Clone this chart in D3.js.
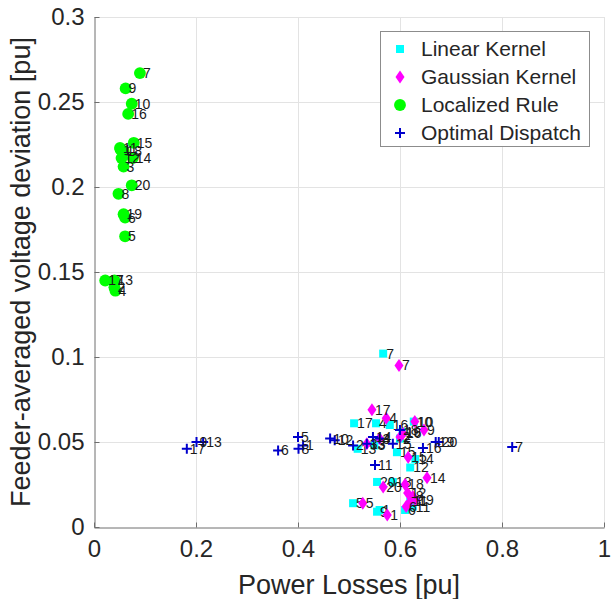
<!DOCTYPE html>
<html>
<head>
<meta charset="utf-8">
<script src="https://cdn.jsdelivr.net/npm/d3@7"></script>
<style>
  html, body { margin: 0; padding: 0; background: #fff; }
  svg { display: block; font-family: "Liberation Sans", Arial, sans-serif; }
</style>
</head>
<body>
<svg id="chart" width="613" height="599"></svg>
<script>
// Scenario indices 1..20 are the array positions + 1.
const seriesNames = ["Linear Kernel", "Gaussian Kernel", "Localized Rule", "Optimal Dispatch"];

// Linear Kernel: power losses / voltage deviation per scenario
const linearX = [0.560, 0.600, 0.550, 0.553, 0.508, 0.610, 0.567, 0.620, 0.555, 0.627,
                 0.625, 0.620, 0.517, 0.630, 0.594, 0.580, 0.510, 0.586, 0.605, 0.555];
const linearY = [0.010, 0.052, 0.048, 0.061, 0.014, 0.010, 0.102, 0.015, 0.009, 0.062,
                 0.012, 0.035, 0.046, 0.040, 0.044, 0.060, 0.061, 0.0265, 0.056, 0.0265];

// Gaussian Kernel
const gaussX = [0.575, 0.600, 0.560, 0.573, 0.527, 0.612, 0.598, 0.625, 0.647, 0.629,
                0.620, 0.615, 0.535, 0.653, 0.616, 0.606, 0.545, 0.610, 0.630, 0.567];
const gaussY = [0.007, 0.053, 0.052, 0.064, 0.014, 0.012, 0.095, 0.018, 0.057, 0.062,
                0.015, 0.020, 0.049, 0.029, 0.041, 0.055, 0.069, 0.025, 0.016, 0.0235];

// Localized Rule
const localX = [0.052, 0.040, 0.058, 0.042, 0.061, 0.061, 0.090, 0.048, 0.062, 0.074,
                0.051, 0.054, 0.040, 0.076, 0.078, 0.067, 0.022, 0.058, 0.058, 0.074];
const localY = [0.222, 0.141, 0.212, 0.139, 0.171, 0.182, 0.267, 0.196, 0.258, 0.249,
                0.223, 0.217, 0.145, 0.217, 0.226, 0.243, 0.145, 0.221, 0.184, 0.201];

// Optimal Dispatch
const optX = [0.410, 0.508, 0.535, 0.560, 0.400, 0.361, 0.820, 0.401, 0.201, 0.463,
              0.551, 0.472, 0.214, 0.547, 0.586, 0.645, 0.182, 0.600, 0.670, 0.676];
const optY = [0.048, 0.048, 0.049, 0.052, 0.053, 0.045, 0.047, 0.046, 0.050, 0.052,
              0.0365, 0.051, 0.050, 0.053, 0.049, 0.0465, 0.046, 0.057, 0.050, 0.050];

const xTicks = [0, 0.2, 0.4, 0.6, 0.8, 1];
const xTickLabels = ["0", "0.2", "0.4", "0.6", "0.8", "1"];
const yTicks = [0, 0.05, 0.1, 0.15, 0.2, 0.25, 0.3];
const yTickLabels = ["0", "0.05", "0.1", "0.15", "0.2", "0.25", "0.3"];

const svg = d3.select("#chart");
const margin = { left: 94, right: 9, top: 17, bottom: 72 };
const W = 613, H = 599;
const x = d3.scaleLinear().domain([0, 1]).range([margin.left, W - margin.right]);
const y = d3.scaleLinear().domain([0, 0.3]).range([H - margin.bottom, margin.top]);

const axisColor = "#262626";

// grid
const grid = svg.append("g").attr("stroke", "#e3e3e3").attr("stroke-width", 1);
grid.selectAll("line.vx").data(xTicks.slice(1)).join("line")
  .attr("x1", d => Math.round(x(d)) + 0.5).attr("x2", d => Math.round(x(d)) + 0.5)
  .attr("y1", y(0.3)).attr("y2", y(0));
grid.selectAll("line.hy").data(yTicks.slice(1)).join("line")
  .attr("x1", x(0)).attr("x2", x(1))
  .attr("y1", d => Math.round(y(d)) + 0.5).attr("y2", d => Math.round(y(d)) + 0.5);

// axes (ticks inward)
const xAxis = d3.axisBottom(x).tickValues(xTicks)
  .tickFormat((d, i) => xTickLabels[i]).tickSizeInner(-5).tickSizeOuter(0).tickPadding(12);
const yAxis = d3.axisLeft(y).tickValues(yTicks)
  .tickFormat((d, i) => yTickLabels[i]).tickSizeInner(-5).tickSizeOuter(0).tickPadding(10);

const gx = svg.append("g").attr("transform", `translate(0,${Math.round(y(0)) + 0.5})`).call(xAxis);
const gy = svg.append("g").attr("transform", `translate(${Math.round(x(0)) + 0.5},0)`).call(yAxis);
[gx, gy].forEach(g => {
  g.select(".domain").attr("stroke", "#6e6e6e").attr("stroke-width", 1);
  g.selectAll(".tick line").attr("stroke", "#6e6e6e");
  g.selectAll(".tick text").attr("fill", axisColor).attr("font-size", 24)
    .attr("font-family", "Liberation Sans, Arial, sans-serif");
});
gx.selectAll(".tick text").attr("dy", "0.71em");

// axis labels
svg.append("text").attr("x", (x(0) + x(1)) / 2).attr("y", 594)
  .attr("text-anchor", "middle").attr("fill", axisColor).attr("font-size", 27)
  .text("Power Losses [pu]");
svg.append("text")
  .attr("transform", `translate(30,${(y(0) + y(0.3)) / 2}) rotate(-90)`)
  .attr("text-anchor", "middle").attr("fill", axisColor).attr("font-size", 27)
  .text("Feeder-averaged voltage deviation [pu]");

// marker shapes
const sq = d3.symbol().type(d3.symbolSquare).size(64)();
const circ = d3.symbol().type(d3.symbolCircle).size(110)();
const diamondPath = "M0,-6.5L4.5,0L0,6.5L-4.5,0Z";
const plusPath = "M-5,0H5M0,-5V5";

const series = [
  { name: seriesNames[0], xs: linearX, ys: linearY, path: sq, fill: "#00ffff", stroke: "none" },
  { name: seriesNames[1], xs: gaussX, ys: gaussY, path: diamondPath, fill: "#ff00ff", stroke: "none" },
  { name: seriesNames[2], xs: localX, ys: localY, path: circ, fill: "#00ff00", stroke: "none" },
  { name: seriesNames[3], xs: optX, ys: optY, path: plusPath, fill: "none", stroke: "#0000cc" }
];

const plot = svg.append("g");
series.forEach(s => {
  const pts = s.xs.map((v, i) => ({ x: v, y: s.ys[i], id: i + 1 }));
  const g = plot.append("g");
  g.selectAll("path").data(pts).join("path")
    .attr("transform", d => `translate(${x(d.x)},${y(d.y)})`)
    .attr("d", s.path)
    .attr("fill", s.fill)
    .attr("stroke", s.stroke)
    .attr("stroke-width", 2);
  g.selectAll("text").data(pts).join("text")
    .attr("x", d => x(d.x) + 3)
    .attr("y", d => y(d.y))
    .attr("dy", "0.35em")
    .attr("font-size", 14)
    .attr("fill", "#1a1a1a")
    .text(d => d.id);
});

// legend
const lg = svg.append("g");
lg.append("rect").attr("x", 380.5).attr("y", 31.5).attr("width", 209).attr("height", 115)
  .attr("fill", "#fff").attr("stroke", "#8c8c8c").attr("stroke-width", 1);
series.forEach((s, i) => {
  const yy = 49 + i * 28;
  lg.append("path").attr("transform", `translate(400,${yy})`)
    .attr("d", s.path).attr("fill", s.fill).attr("stroke", s.stroke).attr("stroke-width", 2);
  lg.append("text").attr("x", 421).attr("y", yy).attr("dy", "0.35em")
    .attr("font-size", 21).attr("fill", axisColor).text(s.name);
});
</script>
</body>
</html>
